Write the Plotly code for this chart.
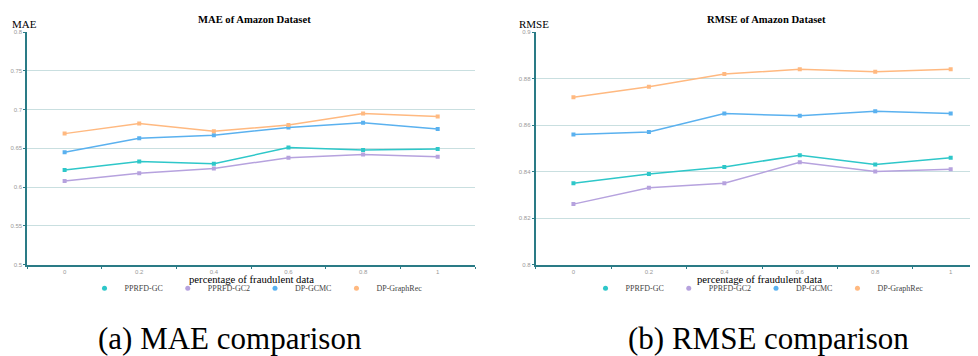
import plotly.graph_objects as go

# Window is 978x356; the page body has an 8px margin, so the figure is drawn 8px in.
WIN_W, WIN_H = 978, 356
OFF = 8
FW, FH = WIN_W - OFF, WIN_H - OFF

x_labels = ["0", "0.2", "0.4", "0.6", "0.8", "1"]
series_names = ["PPRFD-GC", "PPRFD-GC2", "DP-GCMC", "DP-GraphRec"]
colors = ["#2ec7c9", "#b6a2de", "#5ab1ef", "#ffb980"]

mae_pprfd_gc = [0.622, 0.633, 0.630, 0.651, 0.648, 0.649]
mae_pprfd_gc2 = [0.608, 0.618, 0.624, 0.638, 0.642, 0.639]
mae_dp_gcmc = [0.645, 0.663, 0.667, 0.677, 0.683, 0.675]
mae_dp_graphrec = [0.669, 0.682, 0.672, 0.680, 0.695, 0.691]

rmse_pprfd_gc = [0.835, 0.839, 0.842, 0.847, 0.843, 0.846]
rmse_pprfd_gc2 = [0.826, 0.833, 0.835, 0.844, 0.840, 0.841]
rmse_dp_gcmc = [0.856, 0.857, 0.865, 0.864, 0.866, 0.865]
rmse_dp_graphrec = [0.872, 0.8765, 0.882, 0.884, 0.883, 0.884]

mae_ticks = [0.5, 0.55, 0.6, 0.65, 0.7, 0.75, 0.8]
rmse_ticks = [0.8, 0.82, 0.84, 0.86, 0.88, 0.9]

mae_series = [mae_pprfd_gc, mae_pprfd_gc2, mae_dp_gcmc, mae_dp_graphrec]
rmse_series = [rmse_pprfd_gc, rmse_pprfd_gc2, rmse_dp_gcmc, rmse_dp_graphrec]

AXIS = "#2a7b86"
GRID = "#c9dfe0"
SERIF = "Liberation Serif, Times New Roman, Tinos, DejaVu Serif, serif"
SANS = "Liberation Sans, Arial, sans-serif"


def px(x):
    return (x - OFF) / FW


def py(y):
    return (WIN_H - y) / FH


fig = go.Figure()

for i, name in enumerate(series_names):
    fig.add_trace(go.Scatter(
        x=x_labels, y=mae_series[i], mode="lines+markers", name=name,
        line=dict(color=colors[i], width=1.5),
        marker=dict(symbol="square", size=4, color=colors[i]),
        xaxis="x", yaxis="y", showlegend=False))
    fig.add_trace(go.Scatter(
        x=x_labels, y=rmse_series[i], mode="lines+markers", name=name,
        line=dict(color=colors[i], width=1.5),
        marker=dict(symbol="square", size=4, color=colors[i]),
        xaxis="x2", yaxis="y2", showlegend=False))

# legend entries (circle icons)
for i, name in enumerate(series_names):
    fig.add_trace(go.Scatter(
        x=[None], y=[None], mode="markers", name=name,
        marker=dict(symbol="circle", size=5, color=colors[i]),
        xaxis="x", yaxis="y", legend="legend"))
    fig.add_trace(go.Scatter(
        x=[None], y=[None], mode="markers", name=name,
        marker=dict(symbol="circle", size=5, color=colors[i]),
        xaxis="x2", yaxis="y2", legend="legend2"))

ydom = [py(266), py(29.5)]

common_x = dict(
    type="category", categoryorder="array", categoryarray=x_labels,
    showline=True, linecolor=AXIS, linewidth=2,
    ticks="outside", tickson="boundaries", ticklen=2, tickcolor=AXIS,
    tickfont=dict(family=SANS, size=6, color="#999999"),
    showgrid=False, zeroline=False, fixedrange=True,
)
common_y = dict(
    showline=True, linecolor=AXIS, linewidth=2,
    ticks="outside", ticklen=2, tickcolor=AXIS,
    tickfont=dict(family=SANS, size=6, color="#999999"),
    showgrid=True, gridcolor=GRID, gridwidth=1.2, zeroline=False,
)

legend_common = dict(
    orientation="h", yanchor="middle", y=py(290), xanchor="center",
    font=dict(family=SERIF, size=8, color="#444444"), itemwidth=30,
    bgcolor="rgba(0,0,0,0)", tracegroupgap=0,
)

fig.update_layout(
    width=FW, height=FH,
    margin=dict(l=0, r=0, t=0, b=0),
    paper_bgcolor="white", plot_bgcolor="white",
    xaxis=dict(domain=[px(27.3), px(475)], range=[-0.5, 5.5], anchor="y", **common_x),
    yaxis=dict(domain=ydom, range=[0.5, 0.8], tickvals=mae_ticks,
               ticktext=[f"{v:g}" for v in mae_ticks], anchor="x", **common_y),
    xaxis2=dict(domain=[px(535.7), 1.0], range=[-0.5, 5.362], anchor="y2", **common_x),
    yaxis2=dict(domain=ydom, range=[0.8, 0.9], tickvals=rmse_ticks,
                ticktext=[f"{v:g}" for v in rmse_ticks], anchor="x2", **common_y),
    legend=dict(x=px(256), **legend_common),
    legend2=dict(x=px(757), **legend_common),
)

ann = [
    dict(text="<b>MAE of Amazon Dataset</b>", x=px(255), y=py(17), size=10.6, xanchor="center"),
    dict(text="<b>RMSE of Amazon Dataset</b>", x=px(766), y=py(17), size=10.6, xanchor="center"),
    dict(text="MAE", x=px(10), y=py(21), size=11, xanchor="left"),
    dict(text="RMSE", x=px(517), y=py(21), size=11, xanchor="left"),
    dict(text="percentage of fraudulent data", x=px(251), y=py(281), size=10.7, xanchor="center"),
    dict(text="percentage of fraudulent data", x=px(759), y=py(281), size=10.7, xanchor="center"),
    dict(text="(a) MAE comparison", x=px(230), y=py(341), size=31, xanchor="center"),
    dict(text="(b) RMSE comparison", x=px(768), y=py(341), size=31, xanchor="center"),
]
for a in ann:
    fig.add_annotation(text=a["text"], x=a["x"], y=a["y"], xref="paper", yref="paper",
                       xanchor=a["xanchor"], yanchor="middle", showarrow=False,
                       font=dict(family=SERIF, size=a["size"], color="#000000"))

fig.write_html("out.html")
